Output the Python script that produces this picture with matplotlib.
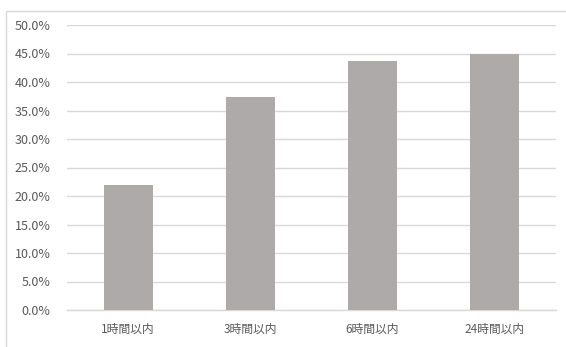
import matplotlib
matplotlib.use("Agg")
import matplotlib.pyplot as plt
from matplotlib.patches import Rectangle
from matplotlib.ticker import FuncFormatter, MultipleLocator

plt.rcParams['font.family'] = ['Noto Sans CJK JP', 'DejaVu Sans']

categories = ["1時間以内", "3時間以内", "6時間以内", "24時間以内"]
values = [22.0, 37.4, 43.7, 45.0]

W, H = 566, 347
fig = plt.figure(figsize=(W / 100, H / 100), dpi=100, facecolor="white")

# chart-area frame (left and top edges visible)
fig.patches.append(Rectangle((6 / W, -0.1), 1.2, (H - 11) / H + 0.1,
                             transform=fig.transFigure, fill=False,
                             edgecolor="#d9d9d9", linewidth=1.0))

ax = fig.add_axes([67 / W, 37 / H, (556 - 67) / W, (310 - 25) / H])
ax.bar(range(len(categories)), values, width=0.4, color="#aeaaaa", zorder=3)

ax.set_xlim(-0.5, len(categories) - 0.5)
ax.set_ylim(0, 50)
ax.yaxis.set_major_locator(MultipleLocator(5))
ax.yaxis.set_major_formatter(FuncFormatter(lambda v, _: f"{v:.1f}%"))
ax.set_xticks(range(len(categories)))
ax.set_xticklabels(categories)

ax.grid(axis="y", color="#d9d9d9", linewidth=1.0, zorder=0)
for s in ["top", "right", "left"]:
    ax.spines[s].set_visible(False)
ax.spines["bottom"].set_color("#d9d9d9")
ax.spines["bottom"].set_linewidth(1.0)

ax.tick_params(axis="both", length=0, colors="#595959")
ax.tick_params(axis="y", pad=12, labelsize=9)
ax.tick_params(axis="x", pad=9, labelsize=8.5)

fig.savefig("out.png", dpi=100, facecolor="white")
